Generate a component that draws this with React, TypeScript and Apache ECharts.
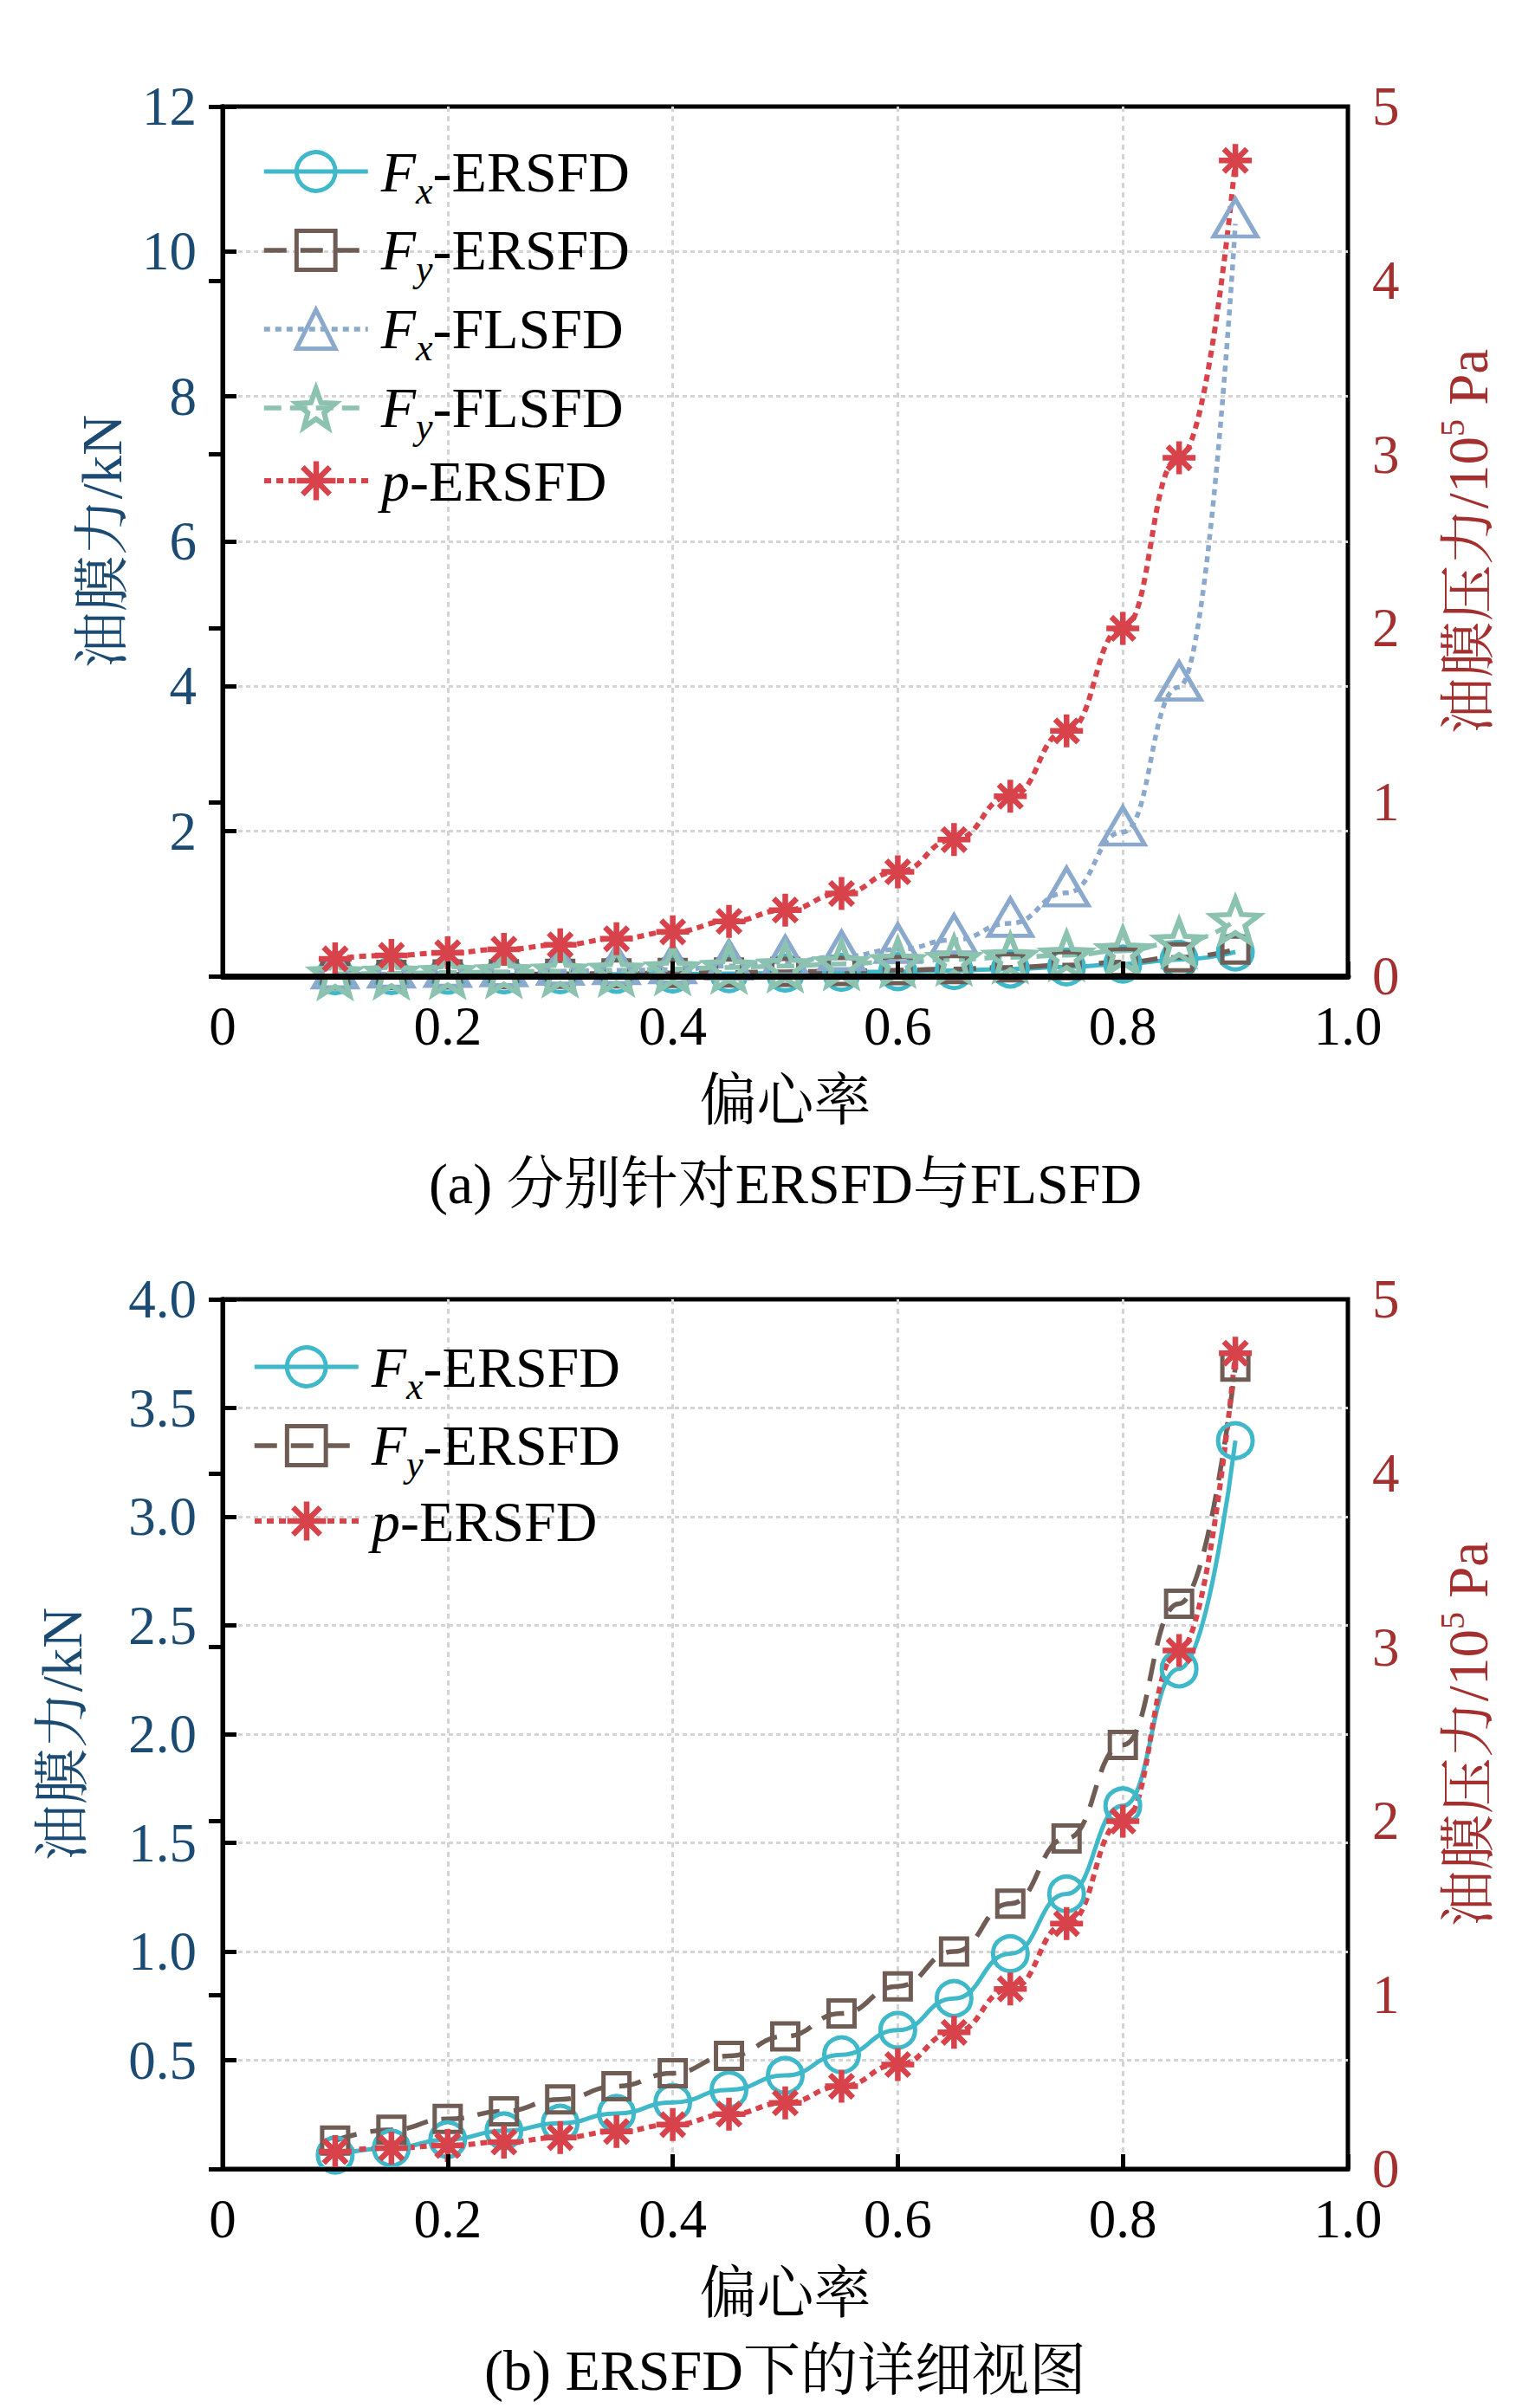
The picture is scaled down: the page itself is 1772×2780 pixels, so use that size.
import React, { useEffect, useRef } from 'react';
import * as echarts from 'echarts';

// ---------- data ----------
const ecc = [0.1, 0.15, 0.2, 0.25, 0.3, 0.35, 0.4, 0.45, 0.5, 0.55, 0.6, 0.65, 0.7, 0.75, 0.8, 0.85, 0.9];

// chart (a)
const fxErsfdA = [0.006, 0.01, 0.014, 0.018, 0.021, 0.026, 0.031, 0.036, 0.043, 0.053, 0.064, 0.078, 0.099, 0.127, 0.167, 0.23, 0.335];
const fyErsfdA = [0.013, 0.018, 0.023, 0.027, 0.032, 0.038, 0.044, 0.052, 0.061, 0.072, 0.084, 0.1, 0.122, 0.152, 0.195, 0.26, 0.369];
const fxFlsfdA = [0.02, 0.03, 0.04, 0.05, 0.07, 0.08, 0.09, 0.14, 0.2, 0.27, 0.37, 0.5, 0.73, 1.15, 1.99, 3.99, 10.38];
const fyFlsfdA = [0.03, 0.04, 0.05, 0.06, 0.07, 0.08, 0.1, 0.12, 0.14, 0.17, 0.2, 0.23, 0.26, 0.29, 0.35, 0.47, 0.77];

// chart (b)
const fxErsfdB = [0.064, 0.096, 0.135, 0.175, 0.21, 0.255, 0.306, 0.364, 0.43, 0.525, 0.638, 0.784, 0.99, 1.265, 1.67, 2.3, 3.35];
const fyErsfdB = [0.13, 0.18, 0.23, 0.265, 0.32, 0.38, 0.44, 0.52, 0.61, 0.715, 0.84, 1.0, 1.22, 1.52, 1.95, 2.6, 3.69];

// oil film pressure (10^5 Pa), same in both charts
const pErsfd = [0.1, 0.12, 0.135, 0.155, 0.18, 0.215, 0.255, 0.315, 0.38, 0.475, 0.6, 0.785, 1.035, 1.41, 2.0, 2.98, 4.69];

const legendForcesA = ['Fx-ERSFD', 'Fy-ERSFD', 'Fx-FLSFD', 'Fy-FLSFD'];
const legendForcesB = ['Fx-ERSFD', 'Fy-ERSFD'];
const legendPressure = ['p-ERSFD'];

const captionA = '(a) 分别针对ERSFD与FLSFD';
const captionB = '(b) ERSFD下的详细视图';
const xName = '偏心率';
const leftName = '油膜力/kN';
const rightName = '油膜压力/10{sup|5} Pa';

// ---------- styles ----------
const SERIF = "'Liberation Serif', 'Times New Roman', 'Noto Serif CJK SC', 'Noto Sans CJK SC', serif";
const C_TEAL = '#3fb8c9';
const C_BROWN = '#6e5c55';
const C_BLUE = '#8aa9cc';
const C_SAGE = '#8cc2b0';
const C_RED = '#d8434b';
const C_LEFT = '#1b4b73';
const C_RIGHT = '#a3302f';
const C_GRID = '#d4d4d4';

const ASTERISK = 'path://M10 0L10 20M0 10L20 10M3 3L17 17M3 17L17 3';
const STAR = 'path://M0 -10L2.47 -3.4L9.51 -3.09L3.99 1.3L5.88 8.09L0 4.2L-5.88 8.09L-3.99 1.3L-9.51 -3.09L-2.47 -3.4Z';

const GRID_LEFT = 257;
const GRID_W = 1299;
const GRID_A_TOP = 123;
const GRID_B_TOP = 1500;
const GRID_H = 1004;

const pairs = (ys: number[]) => ecc.map((x, i) => [x, ys[i]]);

const legendLabel = (name: string) => {
  const [head, tail] = name.split('-');
  if (head.length === 2) return `{it|${head[0]}}{sub|${head[1]}}{n|-${tail}}`;
  return `{it|${head}}{n|-${tail}}`;
};

const legendRich = {
  it: { fontFamily: SERIF, fontStyle: 'italic', fontSize: 66, lineHeight: 84, color: '#000', padding: [0, 0, 0, 10] },
  sub: { fontFamily: SERIF, fontStyle: 'italic', fontSize: 44, lineHeight: 44, color: '#000', padding: [44, 0, 0, 0] },
  n: { fontFamily: SERIF, fontSize: 66, lineHeight: 84, color: '#000' },
};

const STYLE: Record<string, { border: number; line: number }> = {
  'Fx-ERSFD': { border: 5, line: 5 },
  'Fy-ERSFD': { border: 5, line: 5.5 },
  'Fx-FLSFD': { border: 5, line: 5.5 },
  'Fy-FLSFD': { border: 6, line: 5.5 },
  'p-ERSFD': { border: 6.5, line: 6 },
};

function makeLegend(names: string[], top: number, left: number) {
  return {
    data: names.map((name) => ({
      name,
      itemStyle: { borderWidth: STYLE[name].border },
      lineStyle: { width: STYLE[name].line },
    })),
    orient: 'vertical',
    left,
    top,
    padding: 0,
    itemGap: 3,
    itemWidth: 120,
    itemHeight: 56,
    selectedMode: false,
    formatter: legendLabel,
    textStyle: { fontFamily: SERIF, fontSize: 66, color: '#000', rich: legendRich },
  };
}

function xAxes(gridIndex: number, bottomWidth: number) {
  return [
    {
      gridIndex,
      type: 'value',
      position: 'bottom',
      min: 0,
      max: 1,
      interval: 0.2,
      axisLine: { show: false },
      axisTick: { show: false },
      axisLabel: {
        margin: 26,
        fontFamily: SERIF,
        fontSize: 63,
        color: '#000',
        formatter: (v: number) => (v === 0 ? '0' : v.toFixed(1)),
      },
      splitLine: { show: true, showMinLine: false, showMaxLine: false, lineStyle: { color: C_GRID, width: 3, type: [6, 5] } },
      name: xName,
      nameLocation: 'middle',
      nameGap: 110,
      nameMoveOverlap: false,
      nameTextStyle: { fontFamily: SERIF, fontSize: 66, color: '#000' },
    },
    {
      gridIndex,
      type: 'value',
      position: 'bottom',
      min: 0,
      max: 1,
      interval: 0.2,
      z: 10,
      axisLine: { show: true, onZero: false, lineStyle: { color: '#000', width: bottomWidth } },
      axisTick: { show: true, inside: true, length: 17, lineStyle: { color: '#000', width: 5 } },
      axisLabel: { show: false },
      splitLine: { show: false },
    },
  ];
}

function yAxes(gridIndex: number, leftMax: number, leftInterval: number, leftDigits: number, leftGap: number) {
  return [
    {
      gridIndex,
      type: 'value',
      position: 'left',
      min: 0,
      max: leftMax,
      interval: leftInterval,
      axisLine: { show: true, lineStyle: { color: '#000', width: 5 } },
      axisTick: { show: true, inside: true, length: 16, lineStyle: { color: '#000', width: 5 } },
      axisLabel: {
        margin: 30,
        fontFamily: SERIF,
        fontSize: 63,
        color: C_LEFT,
        formatter: (v: number) => (v === 0 ? '' : v.toFixed(leftDigits)),
      },
      splitLine: { show: true, showMinLine: false, showMaxLine: false, lineStyle: { color: C_GRID, width: 3, type: [5, 4] } },
      name: leftName,
      nameLocation: 'middle',
      nameRotate: 90,
      nameGap: leftGap,
      nameMoveOverlap: false,
      nameTextStyle: { fontFamily: SERIF, fontSize: 65, color: C_LEFT },
    },
    {
      gridIndex,
      type: 'value',
      position: 'right',
      min: 0,
      max: 5,
      interval: 1,
      axisLine: { show: true, lineStyle: { color: '#000', width: 5 } },
      axisTick: { show: true, inside: true, length: 16, lineStyle: { color: '#000', width: 5 } },
      axisLabel: { margin: 28, fontFamily: SERIF, fontSize: 63, color: C_RIGHT },
      splitLine: { show: false },
      name: rightName,
      nameLocation: 'middle',
      nameRotate: 90,
      nameGap: 100,
      nameMoveOverlap: false,
      nameTextStyle: {
        fontFamily: SERIF,
        fontSize: 65,
        color: C_RIGHT,
        rich: { sup: { fontFamily: SERIF, fontSize: 40, color: C_RIGHT, padding: [0, 0, 38, 0] } },
      },
    },
  ];
}

type Kind = 'fx' | 'fy' | 'fxf' | 'fyf' | 'p';

function series(name: string, kind: Kind, ys: number[], xAxisIndex: number, yAxisIndex: number) {
  const st = STYLE[name];
  const base: any = {
    name,
    type: 'line',
    xAxisIndex,
    yAxisIndex,
    data: pairs(ys),
    smooth: true,
    smoothMonotone: 'x',
    showAllSymbol: true,
    emphasis: { disabled: true },
    clip: false,
  };
  if (kind === 'fx') {
    return { ...base, symbol: 'circle', symbolSize: 40, color: C_TEAL,
      itemStyle: { color: 'rgba(0,0,0,0)', borderColor: C_TEAL, borderWidth: st.border },
      lineStyle: { color: C_TEAL, width: st.line, type: 'solid' } };
  }
  if (kind === 'fy') {
    return { ...base, symbol: 'rect', symbolSize: 30, color: C_BROWN,
      itemStyle: { color: 'rgba(0,0,0,0)', borderColor: C_BROWN, borderWidth: st.border },
      lineStyle: { color: C_BROWN, width: st.line, type: [26, 16] } };
  }
  if (kind === 'fxf') {
    return { ...base, symbol: 'triangle', symbolSize: [50, 43], symbolOffset: [0, -7], color: C_BLUE,
      itemStyle: { color: 'rgba(0,0,0,0)', borderColor: C_BLUE, borderWidth: st.border },
      lineStyle: { color: C_BLUE, width: st.line, type: [7, 6] } };
  }
  if (kind === 'fyf') {
    return { ...base, symbol: STAR, symbolSize: [54, 50], color: C_SAGE,
      itemStyle: { color: 'rgba(0,0,0,0)', borderColor: C_SAGE, borderWidth: st.border },
      lineStyle: { color: C_SAGE, width: st.line, type: [20, 10] } };
  }
  return { ...base, symbol: ASTERISK, symbolSize: 38, color: C_RED,
    itemStyle: { color: C_RED, borderColor: C_RED, borderWidth: st.border },
    lineStyle: { color: C_RED, width: st.line, type: [8, 6] } };
}

function caption(text: string, y: number) {
  return {
    type: 'text',
    x: GRID_LEFT + GRID_W / 2,
    y,
    style: {
      text,
      fontFamily: SERIF,
      fontSize: 66,
      fill: '#000',
      align: 'center',
      verticalAlign: 'middle',
      textAlign: 'center',
      textVerticalAlign: 'middle',
    },
  };
}

export default function App() {
  const ref = useRef<HTMLDivElement>(null);
  useEffect(() => {
    if (!ref.current) return;
    document.body.style.margin = '0';
    const chart = echarts.init(ref.current, undefined, { renderer: 'svg' });
    const option: any = {
      animation: false,
      backgroundColor: '#fff',
      grid: [
        { left: GRID_LEFT, top: GRID_A_TOP, width: GRID_W, height: GRID_H, show: true, borderColor: '#000', borderWidth: 5, backgroundColor: 'transparent' },
        { left: GRID_LEFT, top: GRID_B_TOP, width: GRID_W, height: GRID_H, show: true, borderColor: '#000', borderWidth: 5, backgroundColor: 'transparent' },
      ],
      xAxis: [...xAxes(0, 7), ...xAxes(1, 5)],
      yAxis: [...yAxes(0, 12, 2, 0, 107), ...yAxes(1, 4, 0.5, 1, 153)],
      legend: [
        makeLegend(legendForcesA, 154, 302),
        makeLegend(legendPressure, 522, 302),
        makeLegend(legendForcesB, 1534, 291),
        makeLegend(legendPressure, 1723, 291),
      ],
      series: [
        series('Fx-ERSFD', 'fx', fxErsfdA, 0, 0),
        series('Fy-ERSFD', 'fy', fyErsfdA, 0, 0),
        series('Fx-FLSFD', 'fxf', fxFlsfdA, 0, 0),
        series('Fy-FLSFD', 'fyf', fyFlsfdA, 0, 0),
        series('p-ERSFD', 'p', pErsfd, 0, 1),
        series('Fx-ERSFD', 'fx', fxErsfdB, 2, 2),
        series('Fy-ERSFD', 'fy', fyErsfdB, 2, 2),
        series('p-ERSFD', 'p', pErsfd, 2, 3),
      ],
      graphic: [caption(captionA, 1366), caption(captionB, 2736)],
    };
    chart.setOption(option);
    return () => chart.dispose();
  }, []);
  return <div ref={ref} style={{ position: 'absolute', left: 0, top: 0, width: 1772, height: 2780, background: '#fff' }} />;
}
